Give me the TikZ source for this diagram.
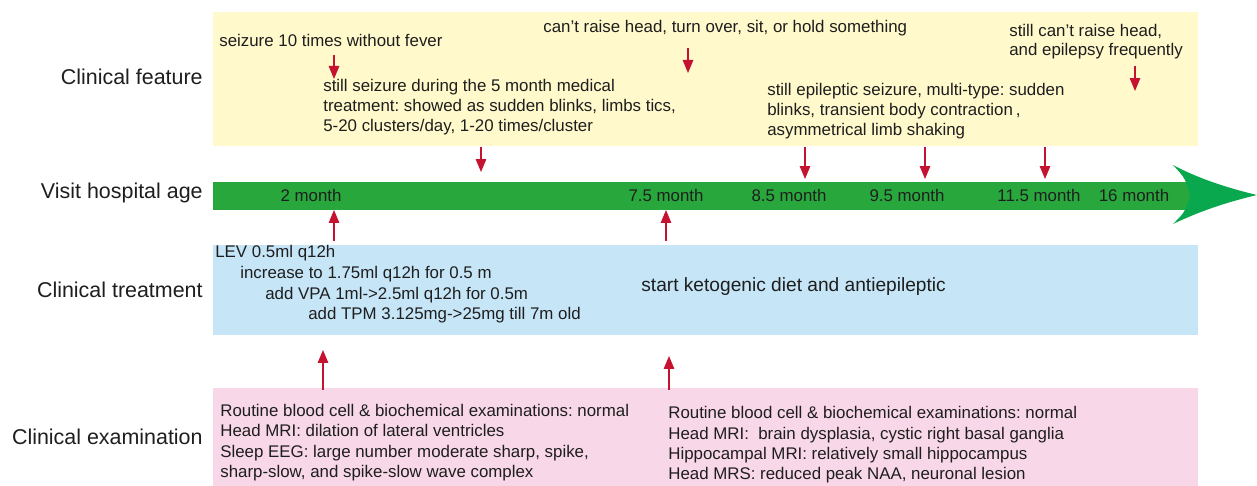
\documentclass[tikz,border=0pt]{standalone}
\usepackage{fontspec}
\setmainfont{Liberation Sans}
\usepackage{tikz}
\usetikzlibrary{arrows.meta}
\definecolor{featbg}{RGB}{255,249,204}
\definecolor{treatbg}{RGB}{198,230,248}
\definecolor{exambg}{RGB}{248,216,232}
\definecolor{agebar}{RGB}{40,168,60}
\definecolor{agehead}{RGB}{10,168,78}
\definecolor{markred}{RGB}{196,18,48}
\definecolor{ink}{RGB}{30,30,30}
\frenchspacing

\begin{document}
\begin{tikzpicture}[x=0.02cm, y=-0.02cm,
  rowlabel/.style={anchor=base east, inner sep=0pt, text=ink, font=\fontsize{12.2}{14}\selectfont},
  txt/.style={anchor=base west, inner sep=0pt, text=ink, font=\fontsize{9.6}{11.5}\selectfont},
  agetxt/.style={anchor=base, inner sep=0pt, text=ink, font=\fontsize{9.6}{11.5}\selectfont},
  redarrow/.style={-{Triangle[length=2.6mm, width=2.1mm]}, line width=0.8pt, color=markred}]
  \useasboundingbox (0,0) rectangle (1257,486);

  % background bands
  \fill[featbg] (213,12) rectangle (1198,146);
  \fill[treatbg] (213,245) rectangle (1198,335);
  \fill[exambg] (213,388) rectangle (1198,486);

  % age bar with arrow head
  \fill[agebar] (213,182) rectangle (1190,210);
  \fill[agehead] (1257,195) .. controls (1215,185) and (1190,174) .. (1173,165)
    .. controls (1185,178) .. (1190,195) .. controls (1185,212) .. (1173,224)
    .. controls (1190,216) and (1215,205) .. (1257,195) -- cycle;

  % row labels
  \node[rowlabel] (lfeat) at (203,85) {Clinical feature};
  \node[rowlabel] (lage) at (203,199) {Visit hospital age};
  \node[rowlabel] (ltreat) at (203,297) {Clinical treatment};
  \node[rowlabel] (lexam) at (203,444) {Clinical examination};

  % clinical feature
  \node[txt] (f1) at (219,47) {seizure 10 times without fever};
  \node[txt] (f2a) at (323,92) {still seizure during the 5 month medical};
  \node[txt] (f2b) at (323,112) {treatment: showed as sudden blinks, limbs tics,};
  \node[txt] (f2c) at (323,132) {5-20 clusters/day, 1-20 times/cluster};
  \node[txt] (f3) at (543,33) {can’t raise head, turn over, sit, or hold something};
  \node[txt] (f4a) at (767,96) {still epileptic seizure, multi-type: sudden};
  \node[txt] (f4b) at (767,116) {blinks, transient body contraction\,,};
  \node[txt] (f4c) at (767,136) {asymmetrical limb shaking};
  \node[txt] (f5a) at (1009,37) {still can’t raise head,};
  \node[txt] (f5b) at (1009,56) {and epilepsy frequently};

  % visit ages
  \node[agetxt] (m2) at (311,202) {2 month};
  \node[agetxt] (m75) at (666,202) {7.5 month};
  \node[agetxt] (m85) at (789,202) {8.5 month};
  \node[agetxt] (m95) at (907,202) {9.5 month};
  \node[agetxt] (m115) at (1039,202) {11.5 month};
  \node[agetxt] (m16) at (1134,202) {16 month};

  % clinical treatment
  \node[txt] (t1) at (215,257) {LEV 0.5ml q12h};
  \node[txt] (t2) at (240,278) {increase to 1.75ml q12h for 0.5 m};
  \node[txt] (t3) at (265,299) {add VPA 1ml->2.5ml q12h for 0.5m};
  \node[txt] (t4) at (308,319) {add TPM 3.125mg->25mg till 7m old};
  \node[txt, font=\fontsize{10.9}{13}\selectfont] (t5) at (641,291) {start ketogenic diet and antiepileptic};

  % clinical examination
  \node[txt] (e1) at (220,416) {Routine blood cell \& biochemical examinations: normal};
  \node[txt] (e2) at (220,436) {Head MRI: dilation of lateral ventricles};
  \node[txt] (e3) at (220,457) {Sleep EEG: large number moderate sharp, spike,};
  \node[txt] (e4) at (220,477) {sharp-slow, and spike-slow wave complex};
  \node[txt] (g1) at (668,418) {Routine blood cell \& biochemical examinations: normal};
  \node[txt] (g2) at (668,439) {Head MRI:\ \ brain dysplasia, cystic right basal ganglia};
  \node[txt] (g3) at (668,459) {Hippocampal MRI: relatively small hippocampus};
  \node[txt] (g4) at (668,479) {Head MRS: reduced peak NAA, neuronal lesion};

  % arrow end points
  \coordinate (a1s) at (334,55);   \coordinate (a1e) at (334,79);
  \coordinate (a2s) at (688,48);   \coordinate (a2e) at (688,73);
  \coordinate (a3s) at (1135,66);  \coordinate (a3e) at (1135,91);
  \coordinate (a4s) at (481,147);  \coordinate (a4e) at (481,172);
  \coordinate (a5s) at (805,147);  \coordinate (a5e) at (805,179);
  \coordinate (a6s) at (925,147);  \coordinate (a6e) at (925,179);
  \coordinate (a7s) at (1045,147); \coordinate (a7e) at (1045,179);
  \coordinate (b1s) at (334,241);  \coordinate (b1e) at (334,210);
  \coordinate (b2s) at (666,241);  \coordinate (b2e) at (666,210);
  \coordinate (c1s) at (323,390);  \coordinate (c1e) at (323,350);
  \coordinate (c2s) at (669,390);  \coordinate (c2e) at (669,356);

  \draw[redarrow] (a1s) -- (a1e);
  \draw[redarrow] (a2s) -- (a2e);
  \draw[redarrow] (a3s) -- (a3e);
  \draw[redarrow] (a4s) -- (a4e);
  \draw[redarrow] (a5s) -- (a5e);
  \draw[redarrow] (a6s) -- (a6e);
  \draw[redarrow] (a7s) -- (a7e);
  \draw[redarrow] (b1s) -- (b1e);
  \draw[redarrow] (b2s) -- (b2e);
  \draw[redarrow] (c1s) -- (c1e);
  \draw[redarrow] (c2s) -- (c2e);
\end{tikzpicture}
\end{document}
